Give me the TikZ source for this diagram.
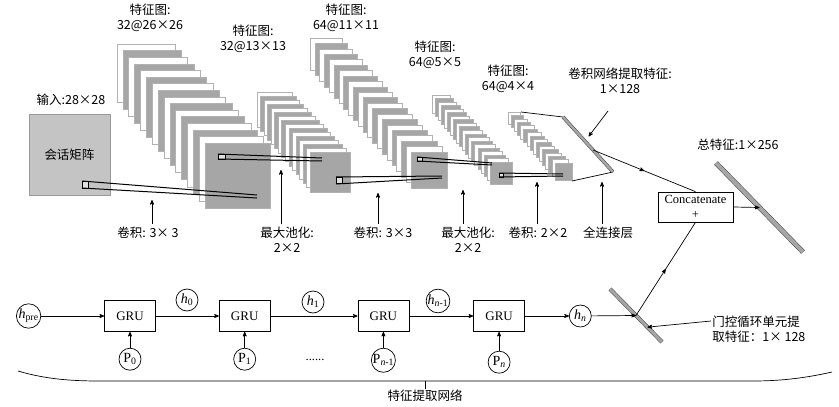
\documentclass[tikz,border=0pt]{standalone}
\usepackage{fontspec}
\setmainfont{Liberation Serif}
\newfontfamily\cjk{Noto Sans CJK SC}
\usepackage{xcolor}
\usepackage{tikz}
\usetikzlibrary{positioning,arrows,calc,decorations.markings}
\definecolor{fmgray}{HTML}{A6A6A6}
\definecolor{ingray}{HTML}{C4C4C4}

\begin{document}
\begin{tikzpicture}[x=1pt,y=-1pt,>=stealth',line width=0.7pt,
	font=\fontsize{12.5}{15}\selectfont,
	lbl/.style={font=\cjk\fontsize{12.5}{15}\selectfont,align=center,inner sep=1pt},
	gru/.style={draw,rectangle,minimum width=51pt,minimum height=31pt,inner sep=1pt,font=\fontsize{13}{15}\selectfont},
	hc/.style={draw,circle,minimum size=22pt,inner sep=0pt,font=\fontsize{14}{15}\selectfont},
	bar/.style={draw=black!75,line width=0.5pt,double=gray!70,double distance=#1},
	bar/.default=2.5pt,
	rf/.style={draw=black,fill=gray!25,line width=0.5pt},
	wedge/.style={line width=1pt},
	midarrow/.style={postaction={decorate},decoration={markings,mark=at position 0.5 with {\arrow{stealth'}}}}]
	\useasboundingbox (0,0) rectangle (839,407);

	% input matrix
	\node[draw=gray!80,fill=ingray,minimum size=81pt,inner sep=0] (inp) at (69.5,155) {\cjk 会话矩阵};
	\node[lbl] (inlab) at (71,100) {输入:28×28};

	% feature map stacks: back corner / back size / front corner / front size / last index
	\foreach \xa/\ya/\wa/\xb/\yb/\wb/\n in {117/44/58/205/143/65/15, 257/92/35/310/152/40/15,
		310/38/32/411/152/36/21, 432/95/18/490/162/22/19, 508/112/12/555/163/17/15}{
		\foreach \i in {0,...,\n}{
			\pgfmathsetmacro\xx{\xa+\i*(\xb-\xa)/\n}
			\pgfmathsetmacro\yy{\ya+\i*(\yb-\ya)/\n}
			\pgfmathsetmacro\ww{\wa+\i*(\wb-\wa)/\n}
			\ifodd\i \def\fc{fmgray}\else\def\fc{white}\fi
			\draw[fill=\fc,draw=gray!60,line width=0.5pt] (\xx,\yy) rectangle ++(\ww,\ww);
		}
	}

	% receptive fields
	\draw[rf] (82,181) rectangle (88,188);
	\draw[wedge] (82,181) -- (257,195) (82,188) -- (257,198);
	\draw[rf] (218,154) rectangle (225,159);
	\draw[wedge] (218,154) -- (322,158) (218,159) -- (322,161);
	\draw[rf] (336,177) rectangle (342,183);
	\draw[wedge] (336,177) -- (442,176) (336,184) -- (442,178);
	\draw[rf] (417,157) rectangle (422,161);
	\draw[wedge] (417,157) -- (492,163) (417,161) -- (492,165);
	\draw[rf] (499,173) rectangle (503,177);
	\draw[wedge] (499,173) -- (563,174) (499,177) -- (563,176);

	% fully connected layer
	\coordinate (f1) at (563,117);
	\coordinate (f2) at (613,172);
	\draw (521,112) -- (f1);
	\draw (572,181) -- (f2);
	\draw[bar] (f1) -- (f2);

	% stack titles
	\node[lbl] (c1top) at (150,18) {特征图:\\32@26×26};
	\node[lbl] (p1top) at (253,38.5) {特征图:\\32@13×13};
	\node[lbl] (c2top) at (346,17.5) {特征图:\\64@11×11};
	\node[lbl] (p2top) at (435,54.5) {特征图:\\64@5×5};
	\node[lbl] (c3top) at (508,78.5) {特征图:\\64@4×4};
	\node[lbl] (fclab) at (620,81) {卷积网络提取特征:\\1×128};

	% operation labels
	\node[lbl] (c1lab) at (148,233) {卷积: 3× 3};
	\node[lbl] (p1lab) at (287,240) {最大池化:\\2×2};
	\node[lbl] (c2lab) at (383,233) {卷积: 3×3};
	\node[lbl] (p2lab) at (468,240) {最大池化:\\2×2};
	\node[lbl] (c3lab) at (538,233) {卷积: 2×2};
	\node[lbl] (fcl) at (608,233) {全连接层};
	\coordinate (c1pt) at (152,200);
	\coordinate (p1pt) at (281,170);
	\coordinate (c2pt) at (378,193);
	\coordinate (p2pt) at (463,190);
	\coordinate (c3pt) at (537,182);
	\coordinate (fcpt) at (602,182);
	\foreach \l/\p in {c1lab/c1pt,p1lab/p1pt,c2lab/c2pt,p2lab/p2pt,c3lab/c3pt,fcl/fcpt}
		\draw[->,shorten <=2pt] (\p |- \l.north) -- (\p);
	\coordinate (fctail) at (608,111);
	\draw[->,shorten >=6pt] (fctail) -- ($(f1)!0.44!(f2)$);

	% concatenation and total feature
	\node[draw,minimum width=75pt,minimum height=30pt,align=center,inner sep=1pt] (cat) at (695.5,207) {Concatenate\\+};
	\coordinate (t1) at (716,163);
	\coordinate (t2) at (803,252);
	\draw[bar=4pt] (t1) -- (t2);
	\node[lbl] (totlab) at (738,145) {总特征:1×256};
	\draw[midarrow] ($(f1)!0.6!(f2)$) -- (cat.north);
	\draw[->] (cat.east) -- ($(t1)!0.5!(t2)$);

	% GRU chain
	\node[gru] (g0) at (130,316) {GRU};
	\node[gru,right=63pt of g0] (g1) {GRU};
	\node[gru,right=87pt of g1] (g2) {GRU};
	\node[gru,right=64pt of g2] (g3) {GRU};
	\node[hc,left=63pt of g0] (hpre) {\textit{h}\textsubscript{pre}};
	\node[hc,right=44pt of g3] (hn) {\textit{h}\textsubscript{\textit{n}}};
	\node[hc] (h0) at (187,300) {\textit{h}\textsubscript{0}};
	\node[hc] (h1) at (313,302) {\textit{h}\textsubscript{1}};
	\node[hc] (hn1) at (438,301) {\textit{h}\textsubscript{\textit{n}-1}};
	\node[hc,below=16pt of g0] (p0) {P\textsubscript{0}};
	\node[hc,below=16pt of g1] (p1) {P\textsubscript{1}};
	\node[hc,below=16pt of g2] (pn1) {P\textsubscript{\textit{n}-1}};
	\node[hc,below=19pt of g3] (pn) {P\textsubscript{\textit{n}}};
	\node (dots) at (315,360) {......};
	\draw[->] (hpre) -- (g0);
	\draw[->] (g0) -- (g1);
	\draw[->] (g1) -- (g2);
	\draw[->] (g2) -- (g3);
	\draw[->] (g3) -- (hn);
	\foreach \p/\g in {p0/g0,p1/g1,pn1/g2,pn/g3}
		\draw[->] (\p) -- (\g);

	% GRU feature
	\coordinate (gb1) at (610,289);
	\coordinate (gb2) at (662,342);
	\draw[bar=3pt] (gb1) -- (gb2);
	\draw[->] (hn) -- ($(gb1)!0.5!(gb2)$);
	\draw[midarrow] ($(gb1)!0.5!(gb2)$) -- (cat.south);
	\node[lbl,align=left,anchor=west] (grulab) at (711,329) {门控循环单元提\\取特征：1× 128};
	\coordinate (grutail) at (711,321);
	\draw[->] (grutail) -- ($(gb1)!0.72!(gb2)$);

	% network brace
	\draw (18,371) .. controls (45,379) and (70,381) .. (100,381) -- (753,381) .. controls (785,381) and (810,377) .. (832,372);
	\coordinate (br) at (425,381);
	\node[lbl] (netlab) at (425,396) {特征提取网络};
	\draw (br) -- (br |- netlab.north);
\end{tikzpicture}
\end{document}
